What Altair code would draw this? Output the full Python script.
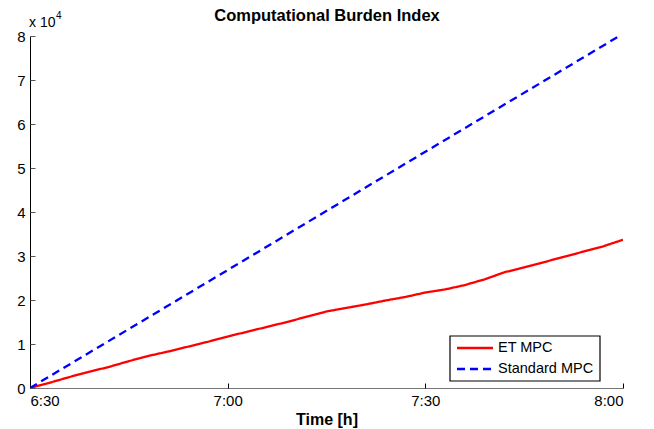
import altair as alt
import pandas as pd

# ---- data (values in units of 1e4) ----
minutes = [0, 3, 6, 9, 12, 15, 18, 21, 24, 27, 30, 33, 36, 39, 42, 45,
           48, 51, 54, 57, 60, 63, 66, 69, 72, 75, 78, 81, 84, 87, 90]
et_mpc = [0.00, 0.12, 0.25, 0.37, 0.48, 0.61, 0.73, 0.83, 0.94, 1.05, 1.17,
          1.28, 1.39, 1.50, 1.62, 1.74, 1.82, 1.90, 1.99, 2.07, 2.17, 2.24,
          2.34, 2.47, 2.63, 2.74, 2.86, 2.98, 3.10, 3.22, 3.37]
std_minutes = [0, 30, 60, 90]
std_mpc = [0.00, 2.68, 5.37, 8.05]

series_names = ["ET MPC", "Standard MPC"]
series_colors = ["#ff0000", "#0000ff"]
series_dash = [[1, 0], [8, 5]]
x_ticks = [0, 30, 60, 90]
x_tick_labels = ["6:30", "7:00", "7:30", "8:00"]
y_ticks = [0, 1, 2, 3, 4, 5, 6, 7, 8]
chart_title = "Computational Burden Index"

FONT = "Liberation Sans"

df = pd.concat([
    pd.DataFrame({"t": minutes, "v": et_mpc, "s": series_names[0]}),
    pd.DataFrame({"t": std_minutes, "v": std_mpc, "s": series_names[1]}),
])

label_map = "{" + ",".join(f"'{k}':'{v}'" for k, v in zip(x_ticks, x_tick_labels)) + "}"

xscale = alt.Scale(domain=[0, 90], nice=False, zero=False)
yscale = alt.Scale(domain=[0, 8], nice=False)

lines = alt.Chart(df).mark_line(strokeWidth=2.3, clip=True).encode(
    x=alt.X("t:Q", scale=xscale,
            axis=alt.Axis(orient="bottom", values=x_ticks, tickSize=0,
                          labelExpr=f"{label_map}[datum.value]",
                          title="Time [h]", titleFontWeight="bold",
                          titleFontSize=16, titlePadding=3,
                          labelFontSize=15, labelPadding=5,
                          domainColor="#777777", grid=False,
                          labelFont=FONT, titleFont=FONT, labelColor="black",
                          titleColor="black")),
    y=alt.Y("v:Q", scale=yscale,
            axis=alt.Axis(orient="left", values=y_ticks, tickSize=0,
                          title=None, labelFontSize=15, labelPadding=5,
                          domainColor="black", grid=False, labelFont=FONT,
                          labelColor="black")),
    color=alt.Color("s:N", scale=alt.Scale(domain=series_names,
                                           range=series_colors), legend=None),
    strokeDash=alt.StrokeDash("s:N", scale=alt.Scale(domain=series_names,
                                                     range=series_dash),
                              legend=None),
)

tick_df = pd.DataFrame({"t": [0], "v": [0]})
ticks = alt.Chart(tick_df).mark_point(opacity=0).encode(
    x=alt.X("t:Q", scale=xscale,
            axis=alt.Axis(orient="top", offset=-352, values=x_ticks,
                          labels=False, domain=False, tickSize=5,
                          tickColor="black", title=None, grid=False)),
    y=alt.Y("v:Q", scale=yscale,
            axis=alt.Axis(orient="right", offset=-593, values=y_ticks,
                          labels=False, domain=False, tickSize=5,
                          tickColor="#555555", title=None, grid=False)),
)

anno = pd.DataFrame({"a": [1]})
title_mark = alt.Chart(anno).mark_text(
    text=chart_title, font=FONT, fontSize=16.5, fontWeight="bold",
    align="center", baseline="alphabetic", color="black").encode(
    x=alt.value(297), y=alt.value(-15.5))
exp_base = alt.Chart(anno).mark_text(
    text="x 10", font=FONT, fontSize=14, align="left", baseline="alphabetic",
    color="black").encode(x=alt.value(-1), y=alt.value(-9))
exp_pow = alt.Chart(anno).mark_text(
    text="4", font=FONT, fontSize=10, align="left", baseline="alphabetic",
    color="black").encode(x=alt.value(26), y=alt.value(-17))

# ---- legend (drawn as marks) ----
leg_box = alt.Chart(anno).mark_rect(
    fill="white", stroke="black", strokeWidth=1.2).encode(
    x=alt.value(420), x2=alt.value(570), y=alt.value(300), y2=alt.value(345))
leg_layers = []
for i, name in enumerate(series_names):
    yy = 312 + 21 * i
    leg_layers.append(
        alt.Chart(anno).mark_rule(color=series_colors[i], strokeWidth=2.5,
                                  strokeDash=series_dash[i]).encode(
            x=alt.value(427), x2=alt.value(463), y=alt.value(yy)))
    leg_layers.append(
        alt.Chart(anno).mark_text(text=name, font=FONT, fontSize=14.5,
                                  align="left", baseline="middle",
                                  color="black").encode(
            x=alt.value(468), y=alt.value(yy)))

chart = alt.layer(lines, ticks, title_mark, exp_base, exp_pow, leg_box,
                  *leg_layers).resolve_axis(
    x="independent", y="independent"
).properties(
    width=593, height=352,
    autosize=alt.AutoSizeParams(type="none"),
    padding={"left": 30, "top": 36, "right": 31, "bottom": 41},
    background="white",
).configure_view(stroke="transparent")

chart.save("out.html", embed_options={"renderer": "svg", "actions": False})
